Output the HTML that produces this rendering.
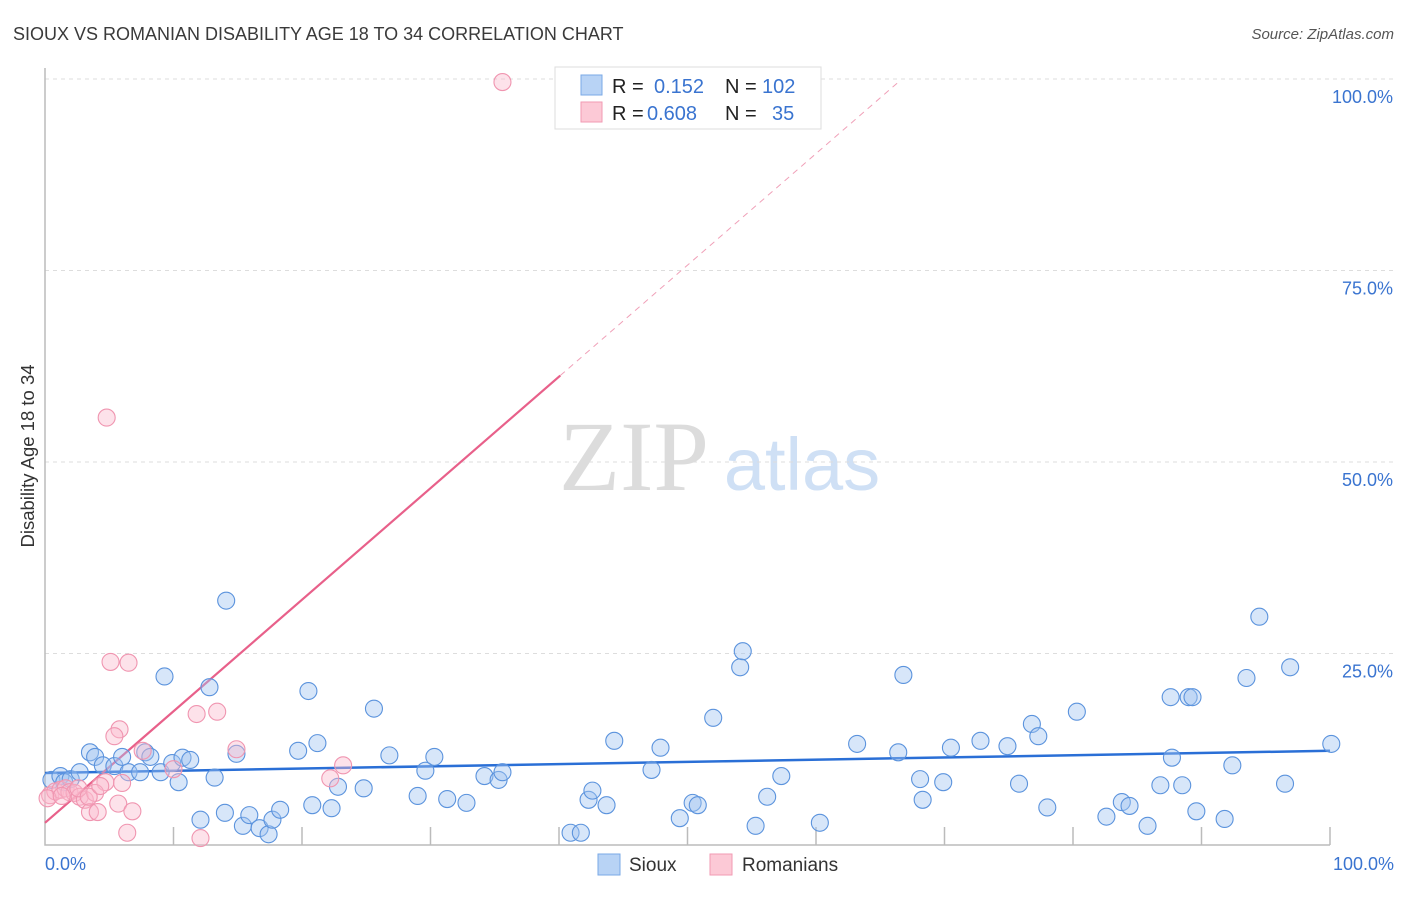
<!DOCTYPE html>
<html><head><meta charset="utf-8"><style>
body{margin:0;background:#fff;font-family:"Liberation Sans",sans-serif;}
</style></head><body>
<svg id="chart" width="1406" height="892" xmlns="http://www.w3.org/2000/svg" font-family="Liberation Sans, sans-serif">
<text x="13" y="40" font-size="18" fill="#3a3a3a">SIOUX VS ROMANIAN DISABILITY AGE 18 TO 34 CORRELATION CHART</text>
<text x="1394" y="39" font-size="15" fill="#555" text-anchor="end" font-style="italic">Source: ZipAtlas.com</text>
<text transform="translate(34,456) rotate(-90)" font-size="18.5" fill="#333" text-anchor="middle">Disability Age 18 to 34</text>
<g>
<text x="634" y="490" font-size="100" fill="#dcdcdc" text-anchor="middle" style="font-family:'Liberation Serif',serif">ZIP</text>
<text x="802" y="490" font-size="74" fill="#cfe0f5" text-anchor="middle">atlas</text>
</g>
<g id="grid"></g>
<g id="axes"></g>
<g id="trends"></g>
<g id="points"></g>
<g>
<rect x="555" y="67" width="266" height="62" fill="#fff" stroke="#ddd"/>
<rect x="581" y="75" width="21" height="20" fill="#b8d3f5" stroke="#7aa8e6"/>
<rect x="581" y="102" width="21" height="20" fill="#fcc9d6" stroke="#f29ab3"/>
<text x="612" y="93" font-size="20" fill="#222">R =</text>
<text x="654" y="93" font-size="20" fill="#3a74d0">0.152</text>
<text x="725" y="93" font-size="20" fill="#222">N =</text>
<text x="762" y="93" font-size="20" fill="#3a74d0">102</text>
<text x="612" y="120" font-size="20" fill="#222">R =</text>
<text x="647" y="120" font-size="20" fill="#3a74d0">0.608</text>
<text x="725" y="120" font-size="20" fill="#222">N =</text>
<text x="772" y="120" font-size="20" fill="#3a74d0">35</text>
</g>
<g>
<rect x="598" y="854" width="22" height="21" fill="#b8d3f5" stroke="#7aa8e6"/>
<text x="629" y="871" font-size="19" fill="#333">Sioux</text>
<rect x="710" y="854" width="22" height="21" fill="#fcc9d6" stroke="#f29ab3"/>
<text x="742" y="871" font-size="19" fill="#333">Romanians</text>
</g>
</svg>
<script>
const yTicks=[25,50,75,100];
const yTickLabels=["25.0%","50.0%","75.0%","100.0%"];
const xTickLabels=["0.0%","100.0%"];
const siouxX=[0.5,1.2,1.5,2,2.7,3.5,3.9,4.5,5.4,6,6.5,7.4,7.8,8.2,9,9.3,9.9,10.4,10.7,11.3,12.8,13.2,14.1,14.9,12.1,14,15.4,15.9,16.7,17.4,17.7,18.3,19.7,20.5,20.8,21.2,22.3,22.8,24.8,25.6,26.8,29,29.6,30.3,31.3,32.8,34.2,35.3,35.6,40.9,41.7,42.3,42.6,43.7,44.3,47.2,47.9,49.4,50.4,50.8,52,54.1,54.3,55.3,56.2,57.3,60.3,63.2,66.4,66.8,68.1,68.3,69.9,70.5,72.8,74.9,75.8,76.8,77.3,78,80.3,82.6,83.8,84.4,85.8,86.8,87.7,87.6,88.5,89,89.3,89.6,91.8,92.4,93.5,94.5,96.5,96.9,100.1];
const siouxY=[8.5,9,8.2,8.6,9.5,12.1,11.5,10.4,10.3,11.5,9.5,9.5,12.1,11.5,9.5,22,10.7,8.2,11.4,11.1,20.6,8.8,31.9,11.9,3.3,4.2,2.5,3.9,2.2,1.4,3.3,4.6,12.3,20.1,5.2,13.3,4.8,7.6,7.4,17.8,11.7,6.4,9.7,11.5,6,5.5,9,8.5,9.5,1.6,1.6,5.9,7.1,5.2,13.6,9.8,12.7,3.5,5.5,5.2,16.6,23.2,25.3,2.5,6.3,9,2.9,13.2,12.1,22.2,8.6,5.9,8.2,12.7,13.6,12.9,8,15.8,14.2,4.9,17.4,3.7,5.6,5.1,2.5,7.8,11.4,19.3,7.8,19.3,19.3,4.4,3.4,10.4,21.8,29.8,8,23.2,13.2];
const romX=[35.6,4.8,5.1,6.5,11.8,13.4,5.8,5.4,7.6,14.9,10,23.2,22.2,4.7,6,0.4,0.8,1.2,1.6,1.9,2.3,2.7,3.1,3.9,3.5,4.1,5.7,6.8,6.4,12.1,0.2,2.6,3.4,1.3,4.3];
const romY=[99.6,55.8,23.9,23.8,17.1,17.4,15.1,14.2,12.3,12.5,9.9,10.4,8.7,8.2,8.1,6.5,7,7.2,7.4,6.9,6.8,6.3,5.9,6.8,4.3,4.3,5.4,4.4,1.6,0.9,6.1,7.4,6.3,6.4,7.7];
const siouxTrend=[9.4,12.3];
const romTrend={intercept:2.9,slope:1.456,solidEnd:40.1,dashEnd:66.4};

const X0=45,X1=1330,Y0=845,Y100=79;
const xs=v=>X0+(X1-X0)*v/100;
const ys=v=>Y0-(Y0-Y100)*v/100;
const NS="http://www.w3.org/2000/svg";
function mk(tag,parent,attrs){const e=document.createElementNS(NS,tag);for(const k in attrs)e.setAttribute(k,attrs[k]);document.getElementById(parent).appendChild(e);return e;}

yTicks.forEach((t,i)=>{
  const g=mk('line','grid',{x1:X0,x2:1394,y1:ys(t),y2:ys(t),stroke:'#ddd','stroke-dasharray':'4,4'});
  
  
  const l=mk('text','axes',{x:1393,y:ys(t)+24,'font-size':18,fill:'#3a74d0','text-anchor':'end'});
  l.textContent=yTickLabels[i];
  
  
});
const ax=mk('path','axes',{d:`M${X0},68 V${Y0} H${X1}`,stroke:'#bbb',fill:'none','stroke-width':1.5});


for(let i=1;i<=10;i++){
  const t=mk('line','axes',{x1:xs(i*10),x2:xs(i*10),y1:Y0,y2:Y0-18,stroke:'#bbb','stroke-width':1.5});
  
  
}
[[0,'start',X0],[100,'end',1394]].forEach((d,i)=>{
  const l=mk('text','axes',{x:d[2],y:870,'font-size':18,fill:'#3a74d0','text-anchor':d[1]});
  l.textContent=xTickLabels[i];
  
  
});
siouxX.forEach((x,i)=>{
  const c=mk('circle','points',{cx:xs(x),cy:ys(siouxY[i]),r:8.5,fill:'rgba(160,196,240,0.42)',stroke:'#5b93dd','stroke-width':1.1});
  
  
});
romX.forEach((x,i)=>{
  const c=mk('circle','points',{cx:xs(x),cy:ys(romY[i]),r:8.5,fill:'rgba(250,185,205,0.42)',stroke:'#f095b0','stroke-width':1.1});
  
  
});
const bt=mk('line','trends',{x1:xs(0),y1:ys(siouxTrend[0]),x2:xs(100),y2:ys(siouxTrend[1]),stroke:'#2a6fd6','stroke-width':2.5});


const ry=x=>romTrend.intercept+romTrend.slope*x;
const rt=mk('line','trends',{x1:xs(0),y1:ys(ry(0)),x2:xs(romTrend.solidEnd),y2:ys(ry(romTrend.solidEnd)),stroke:'#e8608a','stroke-width':2.2});


const rd=mk('line','trends',{x1:xs(romTrend.solidEnd),y1:ys(ry(romTrend.solidEnd)),x2:xs(romTrend.dashEnd),y2:ys(ry(romTrend.dashEnd)),stroke:'#f0a0b8','stroke-width':1,'stroke-dasharray':'6,5'});


</script>
</body></html>
